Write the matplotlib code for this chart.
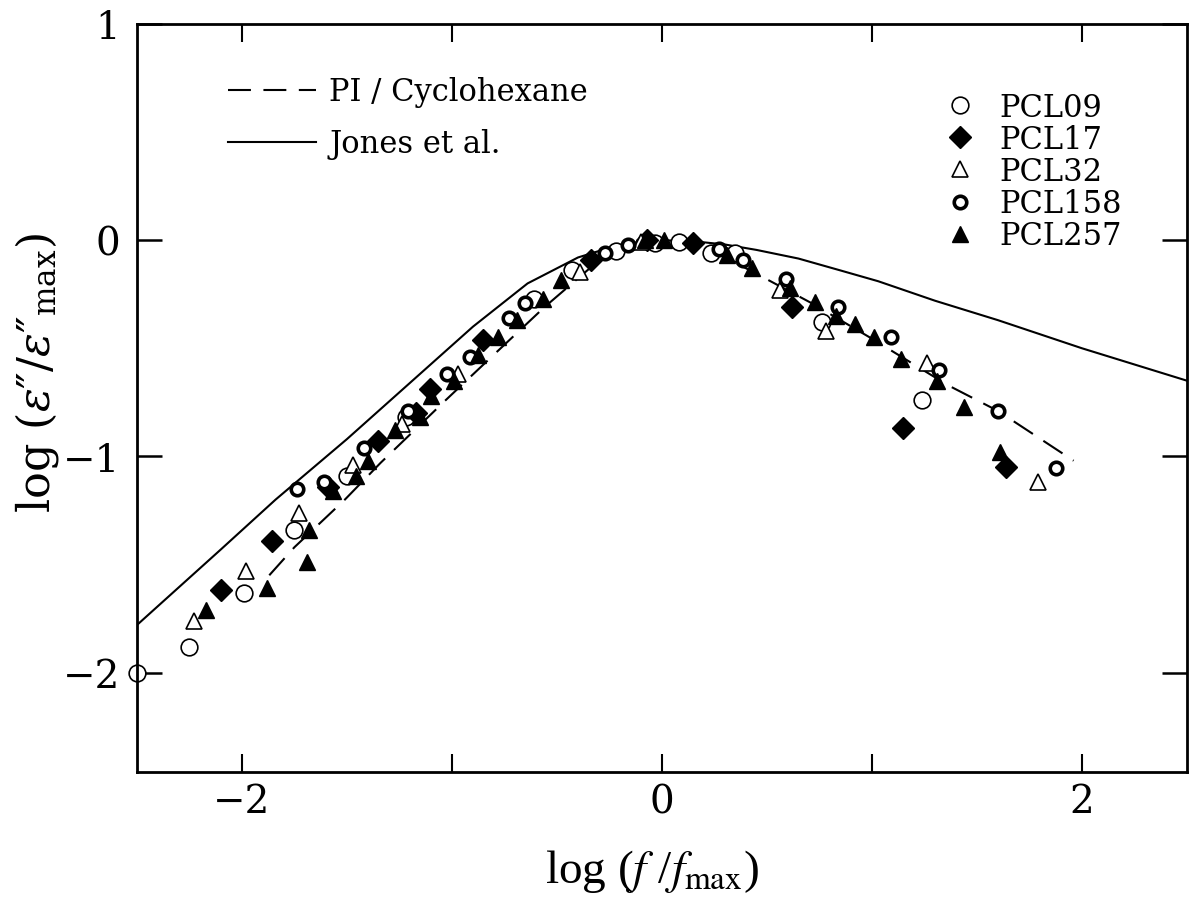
import matplotlib.pyplot as plt
from matplotlib.ticker import FixedLocator, FuncFormatter

# Jones et al. (solid curve)
jones_x = [-2.5, -2.1, -1.84, -1.5, -1.2, -0.9, -0.64, -0.4, -0.25, -0.1, 0.0,
           0.15, 0.3, 0.45, 0.65, 0.85, 1.03, 1.3, 1.6, 2.0, 2.5]
jones_y = [-1.78, -1.43, -1.20, -0.92, -0.66, -0.40, -0.20, -0.08, -0.035,
           -0.005, 0.0, -0.005, -0.02, -0.045, -0.085, -0.14, -0.19, -0.28,
           -0.37, -0.50, -0.65]

# PI / Cyclohexane (dashed curve)
pi_x = [-1.87, -1.75, -1.51, -1.34, -1.03, -0.79, -0.56, -0.32, -0.15, 0.0,
        0.2, 0.44, 0.71, 0.99, 1.36, 1.6, 1.96]
pi_y = [-1.55, -1.42, -1.20, -1.03, -0.74, -0.52, -0.31, -0.11, -0.03, 0.0,
        -0.03, -0.15, -0.29, -0.45, -0.67, -0.79, -1.02]

pcl09_x = [-2.5, -2.25, -1.99, -1.75, -1.50, -1.22, -0.61, -0.43, -0.22,
           -0.035, 0.08, 0.235, 0.35, 0.76, 1.24]
pcl09_y = [-2.0, -1.88, -1.63, -1.34, -1.09, -0.82, -0.27, -0.14, -0.05,
           -0.015, -0.01, -0.06, -0.06, -0.38, -0.74]

pcl17_x = [-2.10, -1.855, -1.59, -1.35, -1.17, -1.105, -0.85, -0.34, -0.07,
           0.15, 0.62, 1.15, 1.64]
pcl17_y = [-1.62, -1.39, -1.14, -0.93, -0.80, -0.69, -0.46, -0.09, 0.0,
           -0.015, -0.31, -0.87, -1.05]

pcl32_x = [-2.23, -1.98, -1.73, -1.47, -1.24, -0.97, -0.39, -0.10, 0.56,
           0.78, 1.26, 1.79]
pcl32_y = [-1.76, -1.53, -1.26, -1.04, -0.85, -0.62, -0.146, -0.01, -0.23,
           -0.42, -0.57, -1.12]

pcl158_x = [-1.736, -1.61, -1.42, -1.21, -1.026, -0.915, -0.73, -0.65, -0.27,
            -0.16, 0.27, 0.385, 0.59, 0.84, 1.09, 1.32, 1.60, 1.875]
pcl158_y = [-1.15, -1.12, -0.96, -0.79, -0.62, -0.54, -0.36, -0.29, -0.06,
            -0.023, -0.04, -0.09, -0.18, -0.31, -0.45, -0.60, -0.79, -1.055]

pcl257_x = [-2.17, -1.88, -1.69, -1.68, -1.565, -1.455, -1.40, -1.27, -1.15,
            -1.10, -0.99, -0.875, -0.78, -0.69, -0.566, -0.48, -0.08, 0.01,
            0.31, 0.43, 0.61, 0.73, 0.83, 0.92, 1.01, 1.14, 1.31, 1.44, 1.61]
pcl257_y = [-1.71, -1.61, -1.49, -1.34, -1.16, -1.09, -1.02, -0.88, -0.82,
            -0.72, -0.65, -0.53, -0.45, -0.37, -0.27, -0.185, 0.0, 0.0,
            -0.07, -0.13, -0.22, -0.285, -0.35, -0.39, -0.45, -0.55, -0.65,
            -0.77, -0.98]

SERIF = "DejaVu Serif"

fig = plt.figure(figsize=(11.89, 9.12), dpi=100)
ax = fig.add_axes([0.1152, 0.1524, 0.8831, 0.8202])

l_pi, = ax.plot(pi_x, pi_y, color="black", lw=1.5, dashes=(11, 6),
                label="PI / Cyclohexane")
l_jo, = ax.plot(jones_x, jones_y, color="black", lw=1.5, label="Jones et al.")

kw = dict(ls="none", color="black", clip_on=False)
m1, = ax.plot(pcl09_x, pcl09_y, marker="o", ms=12, mfc="white", mew=1.2,
              label="PCL09", **kw)
m2, = ax.plot(pcl17_x, pcl17_y, marker="D", ms=11, mfc="black", mew=1.0,
              label="PCL17", **kw)
m3, = ax.plot(pcl32_x, pcl32_y, marker="^", ms=11, mfc="white", mew=1.2,
              label="PCL32", **kw)
m4, = ax.plot(pcl158_x, pcl158_y, marker="o", ms=9, mfc="white", mew=2.6,
              label="PCL158", **kw)
m5, = ax.plot(pcl257_x, pcl257_y, marker="^", ms=11, mfc="black", mew=1.0,
              label="PCL257", **kw)

ax.set_xlim(-2.5, 2.5)
ax.set_ylim(-2.46, 1.0)

ax.xaxis.set_major_locator(FixedLocator([-2, -1, 0, 1, 2]))
ax.yaxis.set_major_locator(FixedLocator([-2, -1, 0, 1]))


def xfmt(v, pos):
    n = int(round(v))
    return str(n).replace("-", "\u2212") if n % 2 == 0 else ""


ax.xaxis.set_major_formatter(FuncFormatter(xfmt))
ax.yaxis.set_major_formatter(
    FuncFormatter(lambda v, p: str(int(round(v))).replace("-", "\u2212")))

ax.tick_params(axis="x", direction="in", length=13, width=1.5, top=True,
               pad=8, labelsize=28)
ax.tick_params(axis="y", direction="in", length=18, width=1.8, right=True,
               pad=12, labelsize=28)
for lab in ax.get_xticklabels() + ax.get_yticklabels():
    lab.set_family(SERIF)
for sp in ax.spines.values():
    sp.set_linewidth(2)

ax.set_ylabel(r"log ($\varepsilon$″/$\varepsilon$″$_{\rm max}$)",
              fontsize=32, family=SERIF, math_fontfamily="dejavuserif")
ax.yaxis.set_label_coords(-0.072, 0.535)
ax.set_xlabel(r"log ($f$ /$f_{\rm max}$)", fontsize=34,
              family="Liberation Serif", math_fontfamily="stix")
ax.xaxis.set_label_coords(0.49, -0.10)

leg1 = ax.legend(handles=[l_pi, l_jo], loc="upper left",
                 bbox_to_anchor=(0.0755, 0.9465), frameon=False,
                 prop={"family": SERIF, "size": 22}, handlelength=2.85,
                 handletextpad=0.45, labelspacing=0.69, borderaxespad=0)
ax.add_artist(leg1)
ax.legend(handles=[m1, m2, m3, m4, m5], loc="upper left",
          bbox_to_anchor=(0.7606, 0.926), frameon=False,
          prop={"family": SERIF, "size": 22}, handlelength=0.8,
          handletextpad=0.9, labelspacing=0.04, borderaxespad=0,
          numpoints=1)

fig.savefig("out.png", dpi=100)
